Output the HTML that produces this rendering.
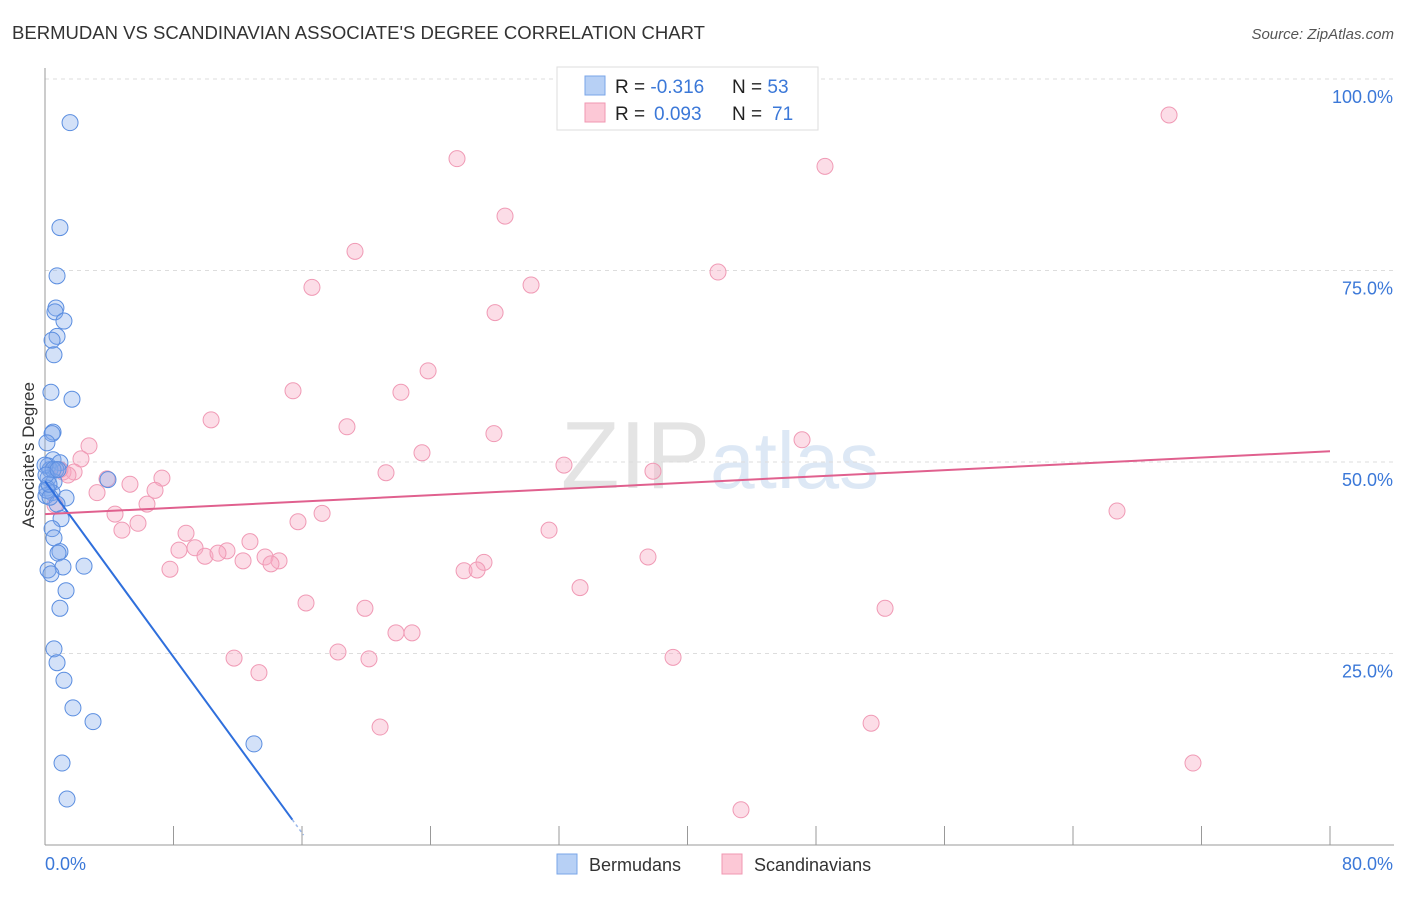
<!DOCTYPE html>
<html><head><meta charset="utf-8"><style>
body{margin:0;background:#fff;font-family:"Liberation Sans",sans-serif;}
svg text{font-family:"Liberation Sans",sans-serif;}
</style></head><body>
<svg id="chart" width="1406" height="892" xmlns="http://www.w3.org/2000/svg">
<text x="12" y="39" font-size="18" fill="#333" textLength="693" lengthAdjust="spacingAndGlyphs">BERMUDAN VS SCANDINAVIAN ASSOCIATE'S DEGREE CORRELATION CHART</text>
<text x="1394" y="39" font-size="15" fill="#555" text-anchor="end" font-style="italic">Source: ZipAtlas.com</text>
<text x="720" y="488" font-size="96" text-anchor="middle" fill="#e8e8e8" font-family="Liberation Serif"><tspan fill="#e4e4e4">ZIP</tspan><tspan fill="#dde8f5" font-family="Liberation Sans" font-size="80">atlas</tspan></text>
<g id="grid"></g>
<g id="axes"></g>
<g id="pink"></g>
<g id="blue"></g>
<g id="trends"></g>
<text transform="translate(34,455) rotate(-90)" font-size="17" fill="#333" text-anchor="middle">Associate's Degree</text>
<g>
<rect x="557" y="67" width="261" height="63" fill="#fff" stroke="#ddd"/>
<rect x="585" y="76" width="20" height="19" fill="#b7d0f5" stroke="#7aa6e8"/>
<rect x="585" y="103" width="20" height="19" fill="#fcc8d6" stroke="#f097b2"/>
<text x="615" y="93" font-size="19" fill="#222">R = <tspan fill="#3b78d8">-0.316</tspan><tspan x="732">N = </tspan><tspan fill="#3b78d8">53</tspan></text>
<text x="615" y="120" font-size="19" fill="#222">R = <tspan fill="#3b78d8" x="654">0.093</tspan><tspan x="732">N = </tspan><tspan fill="#3b78d8" x="772">71</tspan></text>
</g>
<g>
<rect x="557" y="854" width="20" height="20" fill="#b7d0f5" stroke="#7aa6e8"/>
<text x="589" y="871" font-size="18" fill="#333">Bermudans</text>
<rect x="722" y="854" width="20" height="20" fill="#fcc8d6" stroke="#f097b2"/>
<text x="754" y="871" font-size="18" fill="#333">Scandinavians</text>
</g>
</svg>
<script>
const blueX=[1.56,0.93,0.75,0.68,0.62,1.18,0.75,0.44,0.56,0.37,1.68,0.50,0.44,0.12,0.50,0.19,0.93,0.31,0.68,0.19,0.56,0.12,0.44,0.06,1.31,3.92,0.75,1.00,0.44,0.56,0.93,0.81,1.12,2.43,0.19,0.37,1.31,0.93,0.56,0.75,1.18,1.74,2.99,13.01,1.06,1.37,0.12,0.31,0.0,0.25,0.5,0.06,0.81];
const blueY=[94.3,80.6,74.3,70.1,69.6,68.4,66.4,65.9,64.0,59.1,58.2,53.9,53.7,52.5,50.3,49.5,49.9,49.0,49.0,47.9,47.4,46.6,46.0,45.6,45.3,47.7,44.5,42.6,41.3,40.1,38.3,38.1,36.3,36.4,35.9,35.4,33.2,30.9,25.6,23.8,21.5,17.9,16.1,13.2,10.7,6.0,46.3,45.4,49.6,47.1,49.0,48.3,49.0];
const pinkX=[69.98,25.65,48.56,28.64,19.30,41.90,16.62,30.26,28.02,23.85,15.44,22.16,10.34,18.80,27.95,47.13,2.74,23.47,2.24,32.31,1.81,21.23,1.12,37.85,3.86,7.28,3.24,6.85,5.29,6.35,4.36,17.25,66.74,5.79,15.75,4.79,31.38,8.78,9.34,12.76,8.34,11.33,9.96,10.77,13.70,12.33,14.57,14.07,37.54,27.33,7.78,26.09,26.90,33.31,16.25,19.92,52.30,21.85,22.85,18.24,11.77,20.17,39.10,13.32,51.43,20.86,71.47,43.33,0.62,1.43,0.93];
const pinkY=[95.3,89.6,88.6,82.1,77.5,74.8,72.8,73.1,69.5,61.9,59.3,59.1,55.5,54.6,53.7,52.9,52.1,51.2,50.4,49.6,48.7,48.6,48.7,48.8,47.8,47.9,46.0,46.3,47.1,44.5,43.2,43.3,43.6,42.0,42.2,41.1,41.1,40.7,38.8,39.6,38.5,38.4,37.7,38.1,37.6,37.1,37.1,36.7,37.6,36.9,36.0,35.8,35.9,33.6,31.6,30.9,30.9,27.7,27.7,25.2,24.4,24.3,24.5,22.5,15.9,15.4,10.7,4.6,44.4,48.3,49.0];
const blueTrend=[47.5,-2.87];   // intercept, slope
const pinkTrend=[43.2,0.1025];
const yTicks=[25,50,75,100];
const yTickLabels=["25.0%","50.0%","75.0%","100.0%"];
const xTicks=[0,8,16,24,32,40,48,56,64,72,80];
const NS="http://www.w3.org/2000/svg";
const X=v=>45+v/80*1285, Y=v=>845-v/100*766;
function mk(tag,parent,attrs){const e=document.createElementNS(NS,tag);for(const k in attrs)e.setAttribute(k,attrs[k]);document.getElementById(parent).appendChild(e);return e;}
yTicks.forEach((t,i)=>{
  const g=mk('line','grid',{x1:45,x2:1394,y1:Y(t),y2:Y(t),stroke:'#ddd','stroke-dasharray':'4,4'});
  
  
  const l=mk('text','axes',{x:1393,y:Y(t)+24,'font-size':18,fill:'#3b78d8','text-anchor':'end'});
  l.textContent=yTickLabels[i];
  
  
});
mk('line','axes',{x1:45,x2:45,y1:68,y2:845,stroke:'#999'});
mk('line','axes',{x1:45,x2:1394,y1:845,y2:845,stroke:'#999'});
xTicks.forEach(t=>{
  const tk=mk('line','axes',{x1:X(t),x2:X(t),y1:826,y2:845,stroke:'#999'});
  
  
});
const xl0=mk('text','axes',{x:45,y:870,'font-size':18,fill:'#3b78d8'});xl0.textContent='0.0%';


const xl1=mk('text','axes',{x:1393,y:870,'font-size':18,fill:'#3b78d8','text-anchor':'end'});xl1.textContent='80.0%';


pinkX.forEach((v,i)=>{
  const c=mk('circle','pink',{cx:X(v),cy:Y(pinkY[i]),r:8,fill:'rgba(248,170,195,0.4)',stroke:'#f09ab5','stroke-width':1});
  
  
});
blueX.forEach((v,i)=>{
  const c=mk('circle','blue',{cx:X(v),cy:Y(blueY[i]),r:8,fill:'rgba(130,170,235,0.35)',stroke:'#5b8ee0','stroke-width':1});
  
  
});
const bEnd=15.4, bDash=16.1;
const bl=mk('line','trends',{x1:X(0),y1:Y(blueTrend[0]),x2:X(bEnd),y2:Y(blueTrend[0]+blueTrend[1]*bEnd),stroke:'#2f6fdc','stroke-width':2});


const bd=mk('line','trends',{x1:X(bEnd),y1:Y(blueTrend[0]+blueTrend[1]*bEnd),x2:X(bDash),y2:Y(blueTrend[0]+blueTrend[1]*bDash),stroke:'#9bb8ea','stroke-width':1.5,'stroke-dasharray':'3,3'});


const pl=mk('line','trends',{x1:X(0),y1:Y(pinkTrend[0]),x2:X(80),y2:Y(pinkTrend[0]+pinkTrend[1]*80),stroke:'#e0608e','stroke-width':2});


</script>
</body></html>
